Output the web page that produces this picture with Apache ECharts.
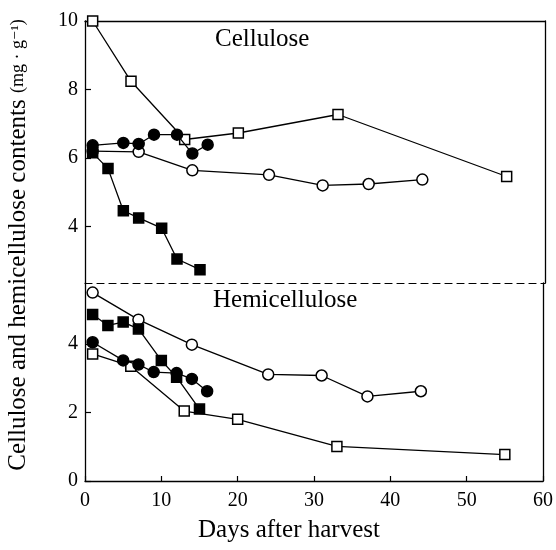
<!DOCTYPE html>
<html>
<head>
<meta charset="utf-8">
<script src="https://cdn.jsdelivr.net/npm/echarts@6/dist/echarts.min.js"></script>
<style>
  html, body { margin: 0; padding: 0; background: #fff; }
  #chart { width: 556px; height: 550px; }
</style>
</head>
<body>
<div id="chart"></div>
<script>
// upper panel: cellulose
const celOpenSqDays = [1, 6, 13, 20, 33, 55]
const celOpenSqVals = [10.0, 8.24, 6.54, 6.73, 7.27, 5.46]
const celOpenCircDays = [1, 7, 14, 24, 31, 37, 44]
const celOpenCircVals = [6.2, 6.18, 5.64, 5.51, 5.2, 5.24, 5.37]
const celFillCircDays = [1, 5, 7, 9, 12, 14, 16]
const celFillCircVals = [6.37, 6.44, 6.41, 6.68, 6.68, 6.13, 6.39]
const celFillSqDays = [1, 3, 5, 7, 10, 12, 15]
const celFillSqVals = [6.15, 5.69, 4.46, 4.25, 3.95, 3.05, 2.74]

// lower panel: hemicellulose
const hemOpenSqDays = [1, 6, 13, 20, 33, 55]
const hemOpenSqVals = [3.71, 3.35, 2.04, 1.8, 1.01, 0.77]
const hemOpenCircDays = [1, 7, 14, 24, 31, 37, 44]
const hemOpenCircVals = [5.5, 4.71, 3.98, 3.11, 3.08, 2.47, 2.62]
const hemFillCircDays = [1, 5, 7, 9, 12, 14, 16]
const hemFillCircVals = [4.05, 3.52, 3.4, 3.18, 3.15, 2.98, 2.62]
const hemFillSqDays = [1, 3, 5, 7, 10, 12, 15]
const hemFillSqVals = [4.86, 4.54, 4.64, 4.44, 3.52, 3.03, 2.1]

const xTicks = [0, 10, 20, 30, 40, 50, 60]
const celTicks = [4, 6, 8, 10]
const hemTicks = [0, 2, 4]

const FONT = '"Liberation Serif", "DejaVu Serif", serif'

const zip = (xs, ys) => xs.map((x, i) => [x, ys[i]])

function makeSeries(grid, days, vals, shape, filled) {
  return {
    type: "line",
    xAxisIndex: grid === 0 ? 0 : 2,
    yAxisIndex: grid === 0 ? 0 : 2,
    data: zip(days, vals),
    symbol: shape,
    symbolSize: shape === "circle" ? 11 : 10,
    clip: false,
    lineStyle: { color: "#000", width: 1.3 },
    itemStyle: {
      color: filled ? "#000" : "#fff",
      borderColor: "#000",
      borderWidth: 1.5,
    },
    emphasis: { disabled: true },
    z: filled ? 3 : 2,
  }
}

const chart = echarts.init(document.getElementById("chart"))

const blackLine = { show: true, lineStyle: { color: "#000", width: 1.3 } }
const noTick = { show: false }
const noLabel = { show: false }

chart.setOption({
  animation: false,
  textStyle: { fontFamily: FONT },
  grid: [
    { left: 85, right: 11, top: 21, height: 262 },
    { left: 85, right: 11, top: 283, height: 198 },
  ],
  xAxis: [
    {
      gridIndex: 0, type: "value", position: "bottom", min: 0, max: 60,
      axisLine: { show: true, onZero: false, lineStyle: { color: "#000", width: 1.2, type: [7, 5] } },
      axisTick: noTick, axisLabel: noLabel, splitLine: { show: false },
    },
    {
      gridIndex: 0, type: "value", position: "top", min: 0, max: 60,
      axisLine: { ...blackLine, onZero: false },
      axisTick: noTick, axisLabel: noLabel, splitLine: { show: false },
    },
    {
      gridIndex: 1, type: "value", position: "bottom", min: 0, max: 60,
      axisLine: { ...blackLine, onZero: false },
      axisTick: {
        show: true, inside: true, length: 5, customValues: xTicks,
        lineStyle: { color: "#000", width: 1.2 },
      },
      axisLabel: {
        customValues: xTicks, color: "#000", fontSize: 20, margin: 10,
        fontFamily: FONT,
      },
      splitLine: { show: false },
      name: "Days after harvest",
      nameLocation: "middle",
      nameGap: 37,
      nameTextStyle: { color: "#000", fontSize: 25, fontFamily: FONT, padding: [0, 50, 0, 0] },
    },
  ],
  yAxis: [
    {
      gridIndex: 0, type: "value", min: 2.35, max: 10,
      axisLine: { ...blackLine, onZero: false },
      axisTick: {
        show: true, inside: true, length: 6, customValues: celTicks,
        lineStyle: { color: "#000", width: 1.2 },
      },
      axisLabel: { customValues: celTicks, color: "#000", fontSize: 20, margin: 7, fontFamily: FONT },
      splitLine: { show: false },
    },
    {
      gridIndex: 0, type: "value", position: "right", min: 2.35, max: 10,
      axisLine: { ...blackLine, onZero: false },
      axisTick: noTick, axisLabel: noLabel, splitLine: { show: false },
    },
    {
      gridIndex: 1, type: "value", min: 0, max: 5.78,
      axisLine: { ...blackLine, onZero: false },
      axisTick: {
        show: true, inside: true, length: 6, customValues: hemTicks,
        lineStyle: { color: "#000", width: 1.2 },
      },
      axisLabel: { customValues: hemTicks, color: "#000", fontSize: 20, margin: 7, fontFamily: FONT },
      splitLine: { show: false },
    },
    {
      gridIndex: 1, type: "value", position: "right", min: 0, max: 5.78,
      axisLine: { ...blackLine, onZero: false },
      axisTick: noTick, axisLabel: noLabel, splitLine: { show: false },
    },
  ],
  graphic: [
    {
      type: "text", left: 215, top: 27,
      style: { text: "Cellulose", font: `25px ${FONT}`, fill: "#000" },
    },
    {
      type: "text", left: 213, top: 288,
      style: { text: "Hemicellulose", font: `25px ${FONT}`, fill: "#000" },
    },
    {
      type: "text", x: 18, y: 245, rotation: Math.PI / 2,
      style: {
        text: "{a|Cellulose and hemicellulose contents }{b|(mg · g⁻¹)}",
        align: "center", verticalAlign: "middle",
        rich: {
          a: { font: `25px ${FONT}`, fill: "#000" },
          b: { font: `18px ${FONT}`, fill: "#000" },
        },
      },
    },
  ],
  series: [
    makeSeries(0, celOpenCircDays, celOpenCircVals, "circle", false),
    makeSeries(0, celOpenSqDays, celOpenSqVals, "rect", false),
    makeSeries(0, celFillCircDays, celFillCircVals, "circle", true),
    makeSeries(0, celFillSqDays, celFillSqVals, "rect", true),
    makeSeries(1, hemOpenCircDays, hemOpenCircVals, "circle", false),
    makeSeries(1, hemOpenSqDays, hemOpenSqVals, "rect", false),
    makeSeries(1, hemFillCircDays, hemFillCircVals, "circle", true),
    makeSeries(1, hemFillSqDays, hemFillSqVals, "rect", true),
  ],
})
</script>
</body>
</html>
